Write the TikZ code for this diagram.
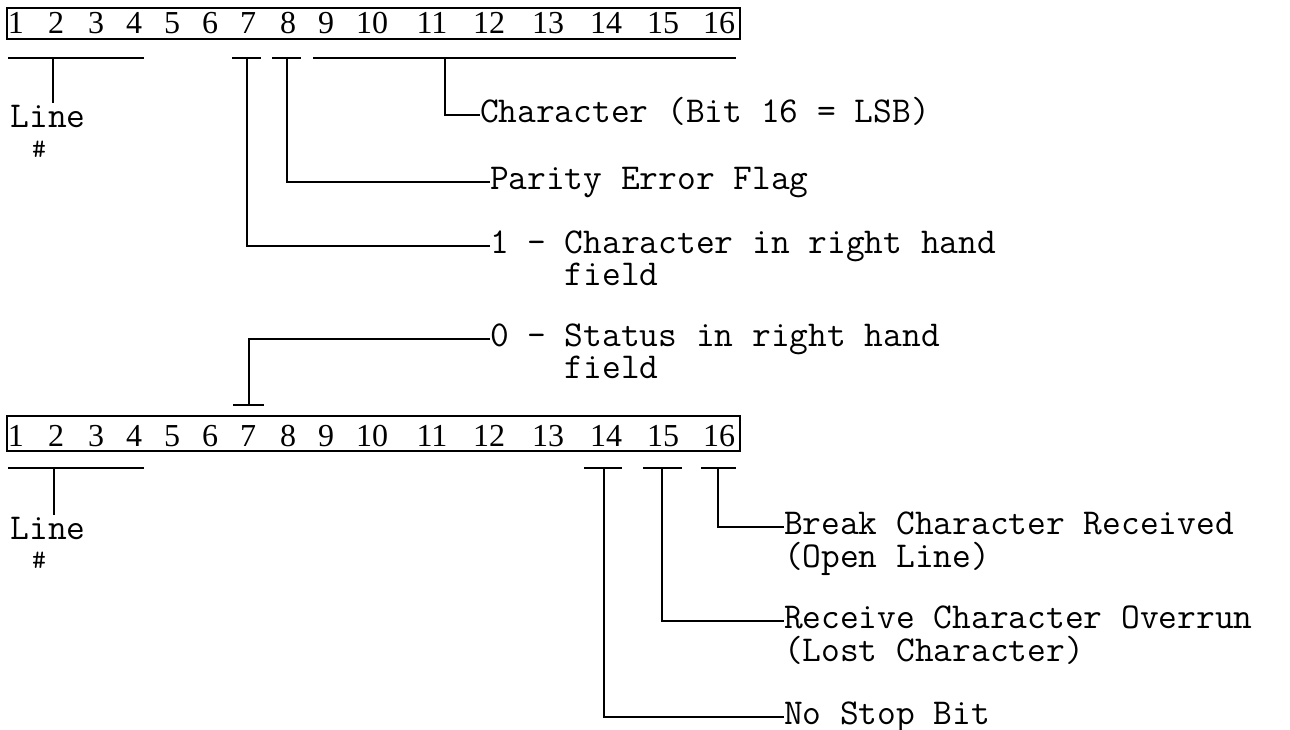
\documentclass[tikz,border=0pt]{standalone}
\usepackage{fontspec}
\newfontfamily\digitfont{Liberation Serif}
\begin{document}
\begin{tikzpicture}[x=1pt,y=-1pt,
  every node/.style={inner sep=0pt, outer sep=0pt},
  lbl/.style={font=\fontsize{36.4}{36}\selectfont\ttfamily, text height=22.5pt, text depth=8pt, anchor=west},
  lbltwo/.style={font=\fontsize{36.4}{36}\selectfont\ttfamily, anchor=base west},
  lblc/.style={font=\fontsize{36.4}{36}\selectfont\ttfamily, text height=22.5pt, text depth=8pt, anchor=base},
  hashst/.style={font=\fontsize{27}{27}\selectfont\ttfamily, anchor=base},
  dig/.style={font=\fontsize{32}{32}\selectfont\digitfont, anchor=base},
  boxst/.style={draw, line width=1.6pt, anchor=north west},
  bar/.style={line width=1.8pt},
  conn/.style={line width=1.6pt}]
\useasboundingbox (0,0) rectangle (1290,730);
\fill[white] (0,0) rectangle (1290,730);

% ---------- the two words ----------
\node[boxst, minimum width=733pt, minimum height=31pt] (box1) at (7,8) {};
\node[boxst, minimum width=733pt, minimum height=35pt] (box2) at (7,416) {};
\foreach \n/\x in {1/16,2/56,3/96,4/134,5/172,6/210,7/248,8/288,9/326,10/372,11/432,12/489,13/548,14/606,15/663,16/719}{
  \node[dig] (a\n) at (\x,34) {\n};
  \node[dig] (b\n) at (\x,446) {\n};
}

% bars under upper word
\draw[bar] (8,58) -- (144,58);
\draw[bar] (232,58) -- (261,58);
\draw[bar] (272,58) -- (301,58);
\draw[bar] (313,58) -- (736,58);
\coordinate (lnA) at (53,58);
\coordinate (c7) at (247,58);
\coordinate (c8) at (287,58);
\coordinate (c916) at (445,58);

\node[lblc] (lineA) at (48,128) {Line};
\node[hashst] (hashA) at (39,158) {\#};
\draw[conn, shorten >=2pt] (lnA) -- (lnA |- lineA.north);

\node[lbl] (tChar) at (480,115) {Character (Bit 16 = LSB)};
\draw[conn] (c916) |- (tChar.west);

\node[lbl] (tPar) at (490,182) {Parity Error Flag};
\draw[conn] (c8) |- (tPar.west);

\node[lbl] (tOne) at (490,246) {1 - Character in right hand};
\node[lbltwo] (tOneb) at ([yshift=-32pt]tOne.base west) {\hphantom{1 - }field};
\draw[conn] (c7) |- (tOne.west);

% ---------- status ----------
\node[lbl] (tZero) at (490,339) {0 - Status in right hand};
\node[lbltwo] (tZerob) at ([yshift=-32pt]tZero.base west) {\hphantom{0 - }field};
\draw[bar] (233,405) -- (264,405);
\coordinate (d7) at (249,405);
\draw[conn] (d7) |- (tZero.west);

% bars under lower word
\draw[bar] (8,468) -- (144,468);
\draw[bar] (584,468) -- (622,468);
\draw[bar] (643,468) -- (682,468);
\draw[bar] (701,468) -- (736,468);
\coordinate (lnB) at (54,468);
\coordinate (e14) at (604,468);
\coordinate (e15) at (662,468);
\coordinate (e16) at (718,468);

\node[lblc] (lineB) at (48,539) {Line};
\node[hashst] (hashB) at (39,568) {\#};
\draw[conn, shorten >=2pt] (lnB) -- (lnB |- lineB.north);

\node[lbl] (tBrk) at (784,527) {Break Character Received};
\node[lbltwo] (tBrkb) at ([yshift=-33pt]tBrk.base west) {(Open Line)};
\draw[conn] (e16) |- (tBrk.west);

\node[lbl] (tRcv) at (784,621) {Receive Character Overrun};
\node[lbltwo] (tRcvb) at ([yshift=-33pt]tRcv.base west) {(Lost Character)};
\draw[conn] (e15) |- (tRcv.west);

\node[lbl] (tStop) at (784,717) {No Stop Bit};
\draw[conn] (e14) |- (tStop.west);
\end{tikzpicture}
\end{document}
